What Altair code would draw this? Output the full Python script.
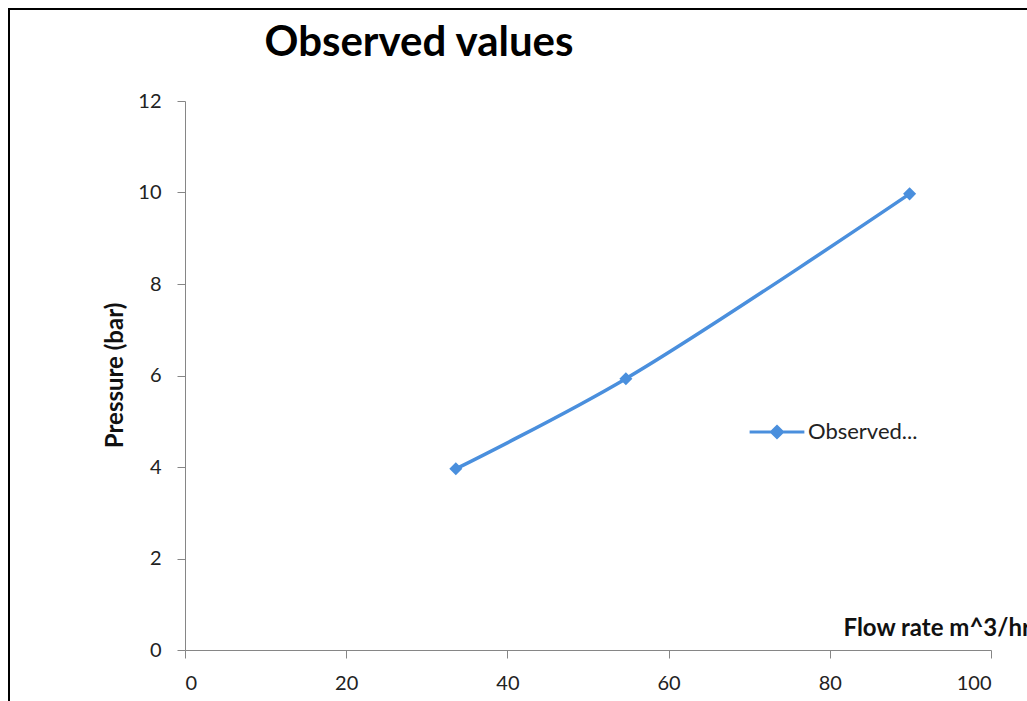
import altair as alt
import pandas as pd

# Observed pump readings
flow_rate = [33.6, 54.7, 89.9]      # m^3/hr
pressure = [3.96, 5.93, 9.97]       # bar
series = ["Observed values"] * 3

x_ticks = [0, 20, 40, 60, 80, 100]
y_ticks = [0, 2, 4, 6, 8, 10, 12]
chart_title = ["Observed values"]

LINE_BLUE = "#4A8FDD"
AXIS_GREY = "#868686"
FONT = "Lato"

df = pd.DataFrame({"flow": flow_rate, "pressure": pressure, "series": series})

W, H = 806, 549
PAD_L, PAD_T = 185, 101

legend_symbol = "M-1,0H1M0,-0.2L0.2,0L0,0.2L-0.2,0Z"

x_enc = alt.X(
    "flow:Q",
    scale=alt.Scale(domain=[0, 100], nice=False),
    axis=alt.Axis(
        values=x_ticks, grid=False, domainColor=AXIS_GREY, tickColor=AXIS_GREY,
        tickSize=8, labelPadding=15, labelFont=FONT, labelFontSize=20,
        labelColor="#222222", title="Flow rate m^3/hr", titleFont=FONT,
        titleFontSize=24, titleFontWeight="bold", titleColor="#111111",
        titleX=658, titleY=-15, titleAlign="left", titleBaseline="alphabetic",
    ),
)
y_enc = alt.Y(
    "pressure:Q",
    scale=alt.Scale(domain=[0, 12], nice=False),
    axis=alt.Axis(
        values=y_ticks, grid=False, domainColor=AXIS_GREY, tickColor=AXIS_GREY,
        tickSize=8, labelPadding=16, labelFont=FONT, labelFontSize=20,
        labelColor="#222222", title="Pressure (bar)", titleFont=FONT,
        titleFontSize=24, titleFontWeight="bold", titleColor="#111111",
        titleX=-63, titleY=274, titleAlign="center", titleBaseline="alphabetic",
    ),
)
color_enc = alt.Color(
    "series:N",
    scale=alt.Scale(range=[LINE_BLUE]),
    legend=alt.Legend(
        title=None, orient="none", legendX=563, legendY=302,
        symbolType=legend_symbol, symbolSize=3000, symbolStrokeWidth=3,
        symbolFillColor=LINE_BLUE, symbolStrokeColor=LINE_BLUE,
        labelFont=FONT, labelFontSize=22, labelColor="#222222",
        labelLimit=130, labelExpr="'Observed...'", labelOffset=2,
    ),
)

line = alt.Chart(df).mark_line(interpolate="catmull-rom", strokeWidth=3.5).encode(
    x=x_enc, y=y_enc, color=color_enc
)
points = alt.Chart(df).mark_point(
    shape="diamond", filled=True, size=170, opacity=1
).encode(x="flow:Q", y="pressure:Q", color=alt.Color("series:N", legend=None))

# chart heading, centred over the left part of the plot
heading = alt.Chart(pd.DataFrame({"t": chart_title})).mark_text(
    font=FONT, fontSize=42, fontWeight="bold", color="#000000",
    align="center", baseline="alphabetic",
).encode(text="t:N", x=alt.value(419 - PAD_L), y=alt.value(56 - PAD_T))

# frame lines along the top and left edges
frame = pd.DataFrame({"k": [0]})
top_edge = alt.Chart(frame).mark_rule(color="black", strokeWidth=2).encode(
    x=alt.value(-PAD_L + 8), x2=alt.value(1027 - PAD_L), y=alt.value(-PAD_T + 9)
)
left_edge = alt.Chart(frame).mark_rule(color="black", strokeWidth=2).encode(
    x=alt.value(-PAD_L + 9), y=alt.value(-PAD_T + 8), y2=alt.value(701 - PAD_T)
)

chart = alt.layer(line, points, heading, top_edge, left_edge).properties(
    width=W, height=H,
    background="white",
    autosize=alt.AutoSizeParams(type="none"),
    padding={"left": PAD_L, "top": PAD_T, "right": 1027 - PAD_L - W, "bottom": 701 - PAD_T - H},
).configure_view(strokeWidth=0)

chart.save("out.html", embed_options={"renderer": "svg", "actions": False})
